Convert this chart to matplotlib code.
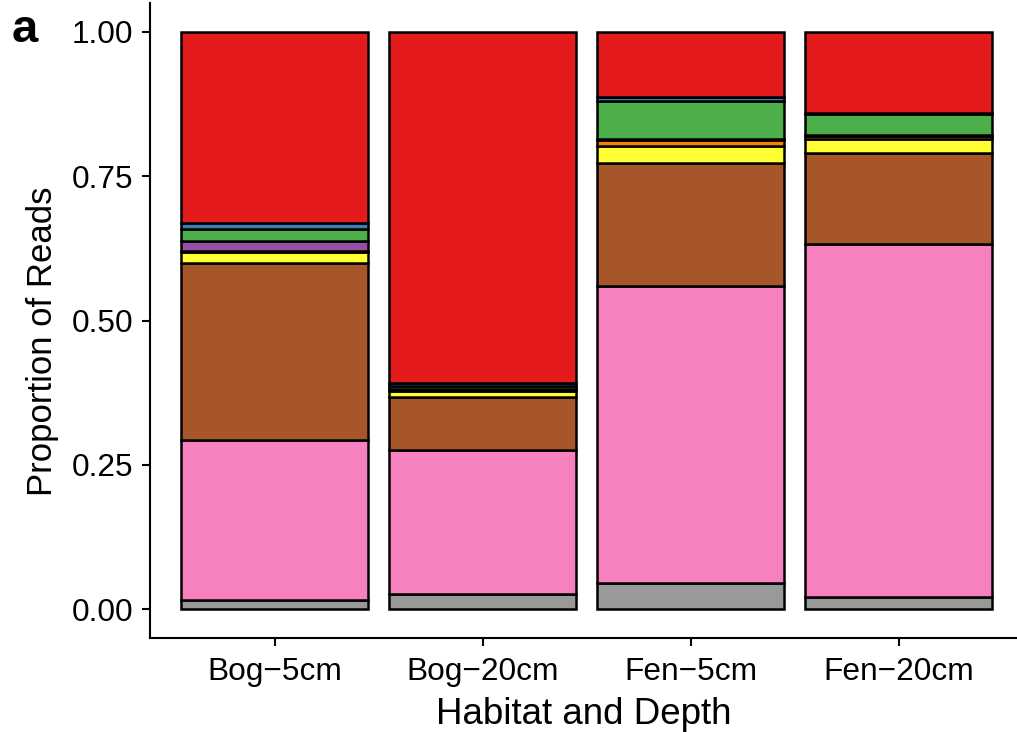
import numpy as np
import matplotlib.pyplot as plt

plt.rcParams['font.family'] = ['Liberation Sans', 'DejaVu Sans']

samples = ['Bog\u22125cm', 'Bog\u221220cm', 'Fen\u22125cm', 'Fen\u221220cm']

# stacked bottom to top
gray = [0.016, 0.026, 0.045, 0.021]
pink = [0.277, 0.250, 0.515, 0.612]
brown = [0.307, 0.091, 0.213, 0.157]
yellow = [0.019, 0.011, 0.029, 0.025]
orange = [0.002, 0.002, 0.011, 0.005]
purple = [0.016, 0.002, 0.002, 0.001]
green = [0.022, 0.004, 0.065, 0.036]
blue = [0.010, 0.006, 0.007, 0.002]
red = [0.331, 0.608, 0.113, 0.141]

layers = [gray, pink, brown, yellow, orange, purple, green, blue, red]
colors = ['#999999', '#F781BF', '#A65628', '#FFFF33', '#FF7F00',
          '#984EA3', '#4DAF4A', '#377EB8', '#E41A1C']

fig = plt.figure(figsize=(10.17, 7.32), dpi=100)
ax = fig.add_axes([150/1017, 1 - 638/732, 867/1017, 635/732])

x = np.arange(1, len(samples) + 1)
bottom = np.zeros(len(samples))
for vals, col in zip(layers, colors):
    vals = np.array(vals)
    ax.bar(x, vals, width=0.9, bottom=bottom, color=col,
           edgecolor='black', linewidth=1.8)
    bottom += vals

ax.set_xlim(0.4, 4.568)
ax.set_ylim(-0.05, 1.05)
ax.set_xticks(x)
ax.set_xticklabels(samples, fontsize=22.8)
ax.set_yticks([0, 0.25, 0.5, 0.75, 1.0])
ax.set_yticklabels(['0.00', '0.25', '0.50', '0.75', '1.00'], fontsize=22.8)
ax.tick_params(length=6, width=1.5)
ax.tick_params(axis='y', pad=6)
ax.tick_params(axis='x', pad=8)
ax.spines['top'].set_visible(False)
ax.spines['right'].set_visible(False)
ax.spines['left'].set_linewidth(1.5)
ax.spines['bottom'].set_linewidth(1.5)
ax.set_xlabel('Habitat and Depth', fontsize=26.5, labelpad=7)
ax.set_ylabel('Proportion of Reads', fontsize=25)
ax.yaxis.set_label_coords(-0.105, 0.468)

fig.text(12/1017, 1 - 42/732, 'a', fontsize=34, fontweight='bold')

fig.savefig('out.png', dpi=100)
